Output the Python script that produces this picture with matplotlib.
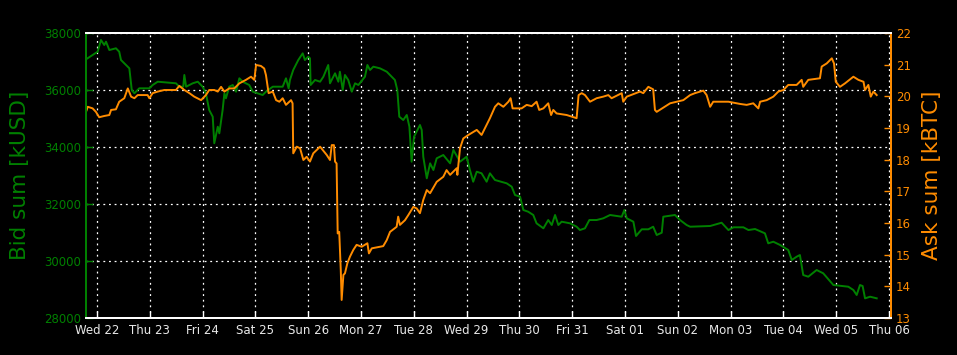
import matplotlib
matplotlib.use("Agg")
import matplotlib.pyplot as plt
import matplotlib.dates as mdates
import pandas as pd
import numpy as np

start = pd.Timestamp("2014-01-22 00:00")

# Bid sum [kUSD]: hours since Wed 22 00:00, values
bid_hours = [-5.0, -1.95, 0.3, 1.8, 3.3, 4.1, 5.6, 8.6, 10.1, 10.9, 13.2, 14.7, 15.8, 17.0, 19.2, 23.8,
             25.3, 27.6, 32.9, 35.9, 37.4, 39.2, 39.7, 40.5, 43.5, 45.8, 48.0, 49.5, 51.0, 52.6, 53.3,
             54.9, 55.6, 57.1, 57.9, 58.6, 60.1, 61.7, 63.2, 64.7, 66.2, 69.2, 70.8, 75.3, 76.8, 79.9,
             84.4, 85.9, 87.1, 87.7, 89.2, 91.5, 93.5, 94.5, 96.0, 96.8, 97.1, 99.1, 101.4, 102.9, 105.1,
             105.9, 108.2, 109.7, 110.4, 111.7, 112.7, 114.2, 115.8, 117.3, 118.8, 121.8, 122.9, 124.1,
             125.6, 128.6, 131.7, 133.2, 135.4, 136.5, 137.4, 139.2, 140.8, 142.0, 143.0, 144.1, 146.8,
             147.6, 148.3, 149.9, 151.4, 152.9, 154.4, 157.4, 160.5, 162.0, 165.0, 168.0, 169.5, 171.0,
             172.6, 174.8, 177.1, 178.6, 180.9, 186.2, 188.5, 190.0, 192.3, 193.8, 196.0, 198.3, 199.8,
             202.9, 205.1, 206.7, 208.2, 209.7, 211.2, 215.0, 218.0, 219.5, 221.8, 223.8, 227.1, 230.1,
             233.2, 238.5, 239.7, 240.8, 243.8, 245.0, 247.6, 250.6, 252.8, 254.4, 256.7, 257.4, 262.7,
             265.0, 268.0, 269.6, 278.7, 283.9, 287.0, 289.3, 293.8, 296.1, 299.1, 303.6, 305.1, 307.4,
             310.5, 314.2, 315.8, 318.0, 319.5, 321.0, 323.3, 327.1, 330.1, 334.7, 341.5, 343.8, 345.3,
             346.8, 348.0, 349.1, 351.4, 354.4]
bid_values = [37077, 37228, 37344, 37754, 37579, 37695, 37403, 37463, 37344, 37053, 36877, 36761, 36000,
              35884, 36059, 36059, 36175, 36291, 36256, 36235, 36116, 36116, 36526, 36116, 36235, 36291,
              36116, 35884, 35298, 35063, 34130, 34712, 34480, 35298, 35884, 35709, 36116, 36175, 35941,
              36410, 36291, 36175, 35941, 35824, 35941, 36116, 36116, 36410, 36059, 36351, 36702, 37053,
              37287, 37053, 37170, 37112, 36175, 36351, 36291, 36467, 36877, 36235, 36586, 36291, 36642,
              36000, 36526, 36351, 35941, 36235, 36175, 36467, 36877, 36702, 36818, 36761, 36642, 36526,
              36351, 36000, 35063, 34947, 35123, 34712, 33484, 34361, 34772, 34596, 33659, 32901, 33427,
              33193, 33603, 33719, 33427, 33895, 33484, 33659, 33193, 32782, 33133, 33077, 32782, 33077,
              32842, 32726, 32607, 32315, 32256, 31789, 31729, 31614, 31322, 31147, 31438, 31263, 31614,
              31263, 31379, 31322, 31203, 31087, 31147, 31438, 31438, 31497, 31614, 31554, 31789, 31497,
              31379, 30877, 31112, 31112, 31203, 30912, 30993, 31554, 31614, 31438, 31263, 31203, 31228,
              31343, 31087, 31182, 31182, 31087, 31122, 30971, 30620, 30677, 30561, 30386, 30035, 30150,
              30210, 29508, 29449, 29684, 29568, 29157, 29098, 28982, 28807, 29157, 29122, 28690, 28747,
              28690]

# Ask sum [kBTC]
ask_hours = [-5.0, -4.2, -2.0, -0.5, 1.0, 3.3, 5.6, 6.4, 8.6, 10.1, 12.4, 14.0, 15.5, 17.0, 18.5, 23.0,
             23.8, 25.3, 27.6, 30.6, 35.9, 37.4, 39.7, 42.0, 44.2, 47.3, 49.5, 51.0, 53.3, 54.9, 56.4,
             57.9, 60.1, 62.4, 64.7, 67.7, 70.0, 71.5, 72.3, 74.5, 76.0, 76.8, 78.0, 79.9, 81.4, 82.9,
             84.4, 85.9, 88.2, 88.9, 89.2, 90.8, 92.3, 93.8, 95.3, 96.8, 98.3, 101.4, 104.4, 105.9, 106.7,
             107.7, 108.2, 108.9, 109.4, 110.1, 110.8, 111.2, 112.0, 112.7, 113.8, 115.0, 116.5, 118.0,
             120.3, 122.9, 123.6, 124.9, 130.1, 131.7, 133.2, 136.2, 136.9, 137.7, 140.0, 141.5, 143.8,
             145.3, 146.8, 148.3, 149.9, 151.4, 154.4, 157.4, 158.9, 160.5, 163.5, 163.8, 165.0, 166.5,
             168.8, 172.6, 174.8, 176.3, 178.6, 180.9, 182.4, 184.7, 187.0, 188.0, 188.9, 193.0, 195.3,
             197.6, 199.8, 201.0, 202.9, 205.1, 206.4, 207.4, 208.9, 213.5, 215.8, 218.0, 218.9, 220.3,
             221.8, 224.1, 227.1, 230.1, 232.4, 233.9, 238.5, 239.2, 240.8, 246.8, 248.3, 250.6, 252.8,
             253.6, 254.4, 260.5, 266.5, 269.6, 271.8, 275.6, 277.1, 278.7, 280.1, 287.0, 292.3, 295.3,
             298.3, 300.6, 301.4, 304.4, 307.4, 309.7, 312.0, 314.2, 318.0, 320.3, 321.0, 323.3, 328.6,
             329.4, 331.7, 334.0, 335.0, 335.8, 337.7, 340.0, 343.8, 346.1, 348.4, 349.1, 350.6, 351.7,
             352.9, 354.4]
ask_values = [19.51, 19.67, 19.62, 19.51, 19.34, 19.38, 19.41, 19.57, 19.59, 19.83, 19.94, 20.25, 19.99,
              19.94, 20.04, 20.04, 19.94, 20.10, 20.15, 20.20, 20.20, 20.33, 20.20, 20.10, 19.99, 19.88,
              20.04, 20.20, 20.20, 20.15, 20.30, 20.15, 20.25, 20.25, 20.41, 20.52, 20.62, 20.52, 20.99,
              20.96, 20.88, 20.67, 20.10, 20.15, 19.88, 19.83, 19.94, 19.73, 19.88, 19.78, 18.20, 18.41,
              18.36, 17.99, 18.09, 17.94, 18.20, 18.41, 18.15, 17.99, 18.46, 18.46, 17.94, 17.88, 15.67,
              15.72, 14.52, 13.57, 14.36, 14.41, 14.73, 14.94, 15.15, 15.31, 15.25, 15.36, 15.04, 15.20,
              15.27, 15.46, 15.72, 15.88, 16.20, 15.94, 16.09, 16.25, 16.51, 16.46, 16.31, 16.73, 17.04,
              16.94, 17.30, 17.46, 17.67, 17.52, 17.73, 17.52, 18.36, 18.67, 18.78, 18.94, 18.78, 18.99,
              19.31, 19.67, 19.78, 19.67, 19.83, 19.94, 19.62, 19.62, 19.73, 19.69, 19.83, 19.57, 19.62,
              19.78, 19.41, 19.57, 19.46, 19.41, 19.36, 19.31, 20.04, 20.10, 20.04, 19.83, 19.94, 19.99,
              20.04, 19.94, 20.10, 19.83, 19.99, 20.15, 20.10, 20.30, 20.22, 19.57, 19.51, 19.78, 19.88,
              20.04, 20.10, 20.18, 20.04, 19.67, 19.83, 19.83, 19.76, 19.73, 19.78, 19.62, 19.83, 19.88,
              19.99, 20.15, 20.20, 20.36, 20.36, 20.52, 20.30, 20.52, 20.57, 20.94, 21.04, 21.20, 21.04,
              20.46, 20.30, 20.41, 20.62, 20.52, 20.46, 20.20, 20.36, 19.99, 20.15, 20.04]

left_ticks = [28000, 30000, 32000, 34000, 36000, 38000]
right_ticks = list(range(13, 23))

GREEN = "#008000"
ORANGE = "#ff8c00"
FG = "#e8e8e8"

bid_t = start + pd.to_timedelta(bid_hours, unit="h")
ask_t = start + pd.to_timedelta(ask_hours, unit="h")

fig = plt.figure(figsize=(9.57, 3.55), dpi=100, facecolor="black")
ax = fig.add_axes([86 / 957, 37 / 355, (891 - 86) / 957, (318 - 33) / 355])
ax.set_facecolor("black")
ax.plot(bid_t, bid_values, color=GREEN, lw=1.4)
ax.set_ylim(28000, 38000)
ax.set_yticks(left_ticks)
ax.set_xlim(start - pd.Timedelta(hours=5), start + pd.Timedelta(hours=360.9))
ax.xaxis.set_major_locator(mdates.DayLocator())
ax.xaxis.set_major_formatter(mdates.DateFormatter("%a %d"))
ax.grid(True, color="white", linestyle=(0, (1.5, 3)), lw=0.9)
ax.tick_params(axis="y", colors=GREEN, direction="in", labelsize=8.5, length=5, width=1)
ax.tick_params(axis="x", colors="white", labelcolor=FG, direction="in", labelsize=8.5, length=5, width=1, pad=4)
ax.set_ylabel("Bid sum [kUSD]", color=GREEN, fontsize=15.5, labelpad=10)

ax2 = ax.twinx()
ax2.plot(ask_t, ask_values, color=ORANGE, lw=1.4)
ax2.set_ylim(13, 22)
ax2.set_yticks(right_ticks)
ax2.tick_params(axis="y", colors=ORANGE, direction="in", labelsize=8.5, length=5, width=1)
ax2.set_ylabel("Ask sum [kBTC]", color=ORANGE, fontsize=15.5, labelpad=8)

for a in (ax, ax2):
    a.spines["top"].set_color("white")
    a.spines["bottom"].set_color("white")
    a.spines["left"].set_color(GREEN)
    a.spines["right"].set_color(ORANGE)
    for s in a.spines.values():
        s.set_linewidth(1.4)

fig.savefig("out.png", dpi=100, facecolor="black")
